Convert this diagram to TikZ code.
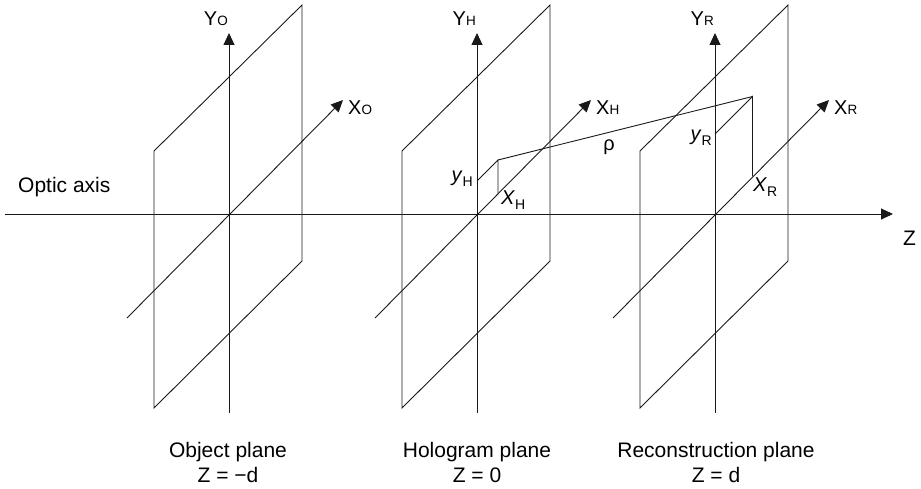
\documentclass[tikz,border=0pt]{standalone}
\usepackage{fontspec}
\setmainfont{Liberation Sans}
\usetikzlibrary{arrows.meta}
\tikzset{
  ln/.style={line width=0.9pt, black!90},
  axisarrow/.style={ln, -{Triangle[length=12pt,width=11pt]}},
  lab/.style={inner sep=0pt, font=\fontsize{20}{24}\selectfont},
  big/.style={inner sep=0pt, font=\fontsize{21}{25}\selectfont},
}
\newcommand\smallsub[1]{{\fontsize{13.5}{15}\selectfont #1}}
\newcommand\lowsub[1]{\raisebox{-5pt}{\fontsize{14}{15}\selectfont #1}}
\begin{document}
\begin{tikzpicture}[x=1pt,y=-1pt]
\useasboundingbox (0,0) rectangle (921,489);
% optic axis
\coordinate (za) at (5,214);
\coordinate (zb) at (893,214);
\draw[axisarrow] (za) -- (zb);
\node[big, anchor=base west] (optic) at (18,193) {Optic axis};
\node[big, anchor=base west] (zlab) at (903,245) {Z};
% object plane
\begin{scope}[shift={(229,214)}]
  \coordinate (o1) at (0,0);
  \draw[ln] (-75,-63) -- (73,-209) -- (73,47) -- (-75,194) -- cycle;
  \coordinate (yb1) at (0,199); \coordinate (yt1) at (0,-181);
  \coordinate (xb1) at (-102,104); \coordinate (xt1) at (114,-114);
  \draw[axisarrow] (yb1) -- (yt1);
  \draw[axisarrow] (xb1) -- (xt1);
  \node[lab, anchor=base east] (ylab1) at (-1,-188) {Y\smallsub{O}};
  \node[lab, anchor=base west] (xlab1) at (119,-99) {X\smallsub{O}};
  \node[big, anchor=base] (name1) at (-1,243) {Object plane};
  \node[big, anchor=base] (zval1) at (-1,268) {Z = −d};
\end{scope}
% hologram plane
\begin{scope}[shift={(477,214)}]
  \coordinate (o2) at (0,0);
  \draw[ln] (-75,-63) -- (73,-209) -- (73,47) -- (-75,194) -- cycle;
  \coordinate (yb2) at (0,199); \coordinate (yt2) at (0,-181);
  \coordinate (xb2) at (-102,104); \coordinate (xt2) at (114,-114);
  \draw[axisarrow] (yb2) -- (yt2);
  \draw[axisarrow] (xb2) -- (xt2);
  \node[lab, anchor=base east] (ylab2) at (-1,-188) {Y\smallsub{H}};
  \node[lab, anchor=base west] (xlab2) at (119,-99) {X\smallsub{H}};
  \node[big, anchor=base] (name2) at (0,243) {Hologram plane};
  \node[big, anchor=base] (zval2) at (0,268) {Z = 0};
  \coordinate (ph) at (21,-54);
  \coordinate (phy) at (0,-33);
  \coordinate (phx) at (21,-21);
  \draw[ln] (phy) -- (ph) -- (phx);
\end{scope}
% reconstruction plane
\begin{scope}[shift={(715,214)}]
  \coordinate (o3) at (0,0);
  \draw[ln] (-75,-63) -- (73,-209) -- (73,47) -- (-75,194) -- cycle;
  \coordinate (yb3) at (0,199); \coordinate (yt3) at (0,-181);
  \coordinate (xb3) at (-102,104); \coordinate (xt3) at (114,-114);
  \draw[axisarrow] (yb3) -- (yt3);
  \draw[axisarrow] (xb3) -- (xt3);
  \node[lab, anchor=base east] (ylab3) at (-1,-188) {Y\smallsub{R}};
  \node[lab, anchor=base west] (xlab3) at (119,-99) {X\smallsub{R}};
  \node[big, anchor=base] (name3) at (1,243) {Reconstruction plane};
  \node[big, anchor=base] (zval3) at (1,268) {Z = d};
  \coordinate (pr) at (37.5,-117.5);
  \coordinate (pry) at (0,-80);
  \coordinate (prx) at (37.5,-37.5);
  \draw[ln] (pry) -- (pr) -- (prx);
\end{scope}
% rho connector
\draw[ln] (ph) -- (pr);
\node[lab] (rho) at (609,147) {ρ};
% point labels
\node[lab, anchor=base east] (yh) at (473,182) {\textit{y}\lowsub{H}};
\node[lab, anchor=base west] (xh) at (501,205) {\textit{X}\lowsub{H}};
\node[lab, anchor=base east] (yr) at (712,141) {\textit{y}\lowsub{R}};
\node[lab, anchor=base west] (xr) at (753,192) {\textit{X}\lowsub{R}};
\end{tikzpicture}
\end{document}
